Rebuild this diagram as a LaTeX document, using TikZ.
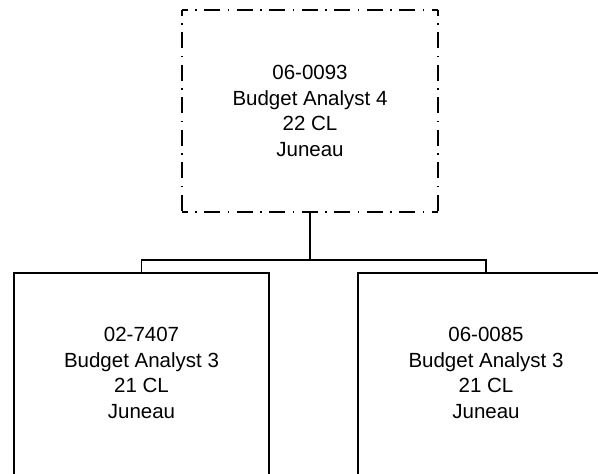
\documentclass[tikz,border=0pt]{standalone}
\usepackage{fontspec}
\setmainfont{Liberation Sans}
\begin{document}
\begin{tikzpicture}[x=1pt,y=1pt,
  posbox/.style={draw=black, line width=1.5pt, minimum width=255pt, minimum height=230pt, inner sep=0pt},
  vacbox/.style={draw=none, minimum width=256pt, minimum height=202pt, inner sep=0pt},
  postext/.style={align=center, font=\fontsize{20.5}{25.7}\selectfont, inner sep=0pt},
  vacline/.style={line width=1.5pt, dash pattern=on 16pt off 7.5pt on 1.5pt off 7.5pt, dash phase=10pt},
  conn/.style={line width=1.5pt}]
\useasboundingbox (0,0) rectangle (598,-474);
\node[vacbox] (top) at (310,-111) {};
\node[postext] (toptext) at (top.center) {06-0093\\Budget Analyst 4\\22 CL\\Juneau};
\draw[vacline] (top.north west) -- (top.north east);
\draw[vacline] (top.north east) -- (top.south east);
\draw[vacline] (top.north west) -- (top.south west);
\draw[vacline] (top.south west) -- (top.south east);
\node[posbox, anchor=north] (left) at (141.5,-272) {};
\node[postext] (lefttext) at (141.5,-373) {02-7407\\Budget Analyst 3\\21 CL\\Juneau};
\node[posbox, minimum width=256pt, anchor=north] (right) at (486,-272) {};
\node[postext] (righttext) at (486,-373) {06-0085\\Budget Analyst 3\\21 CL\\Juneau};
\coordinate (j) at (310,-260);
\draw[conn] (top.south) -- (j);
\draw[conn] (left.north) |- (j) -| (right.north);
\end{tikzpicture}
\end{document}
